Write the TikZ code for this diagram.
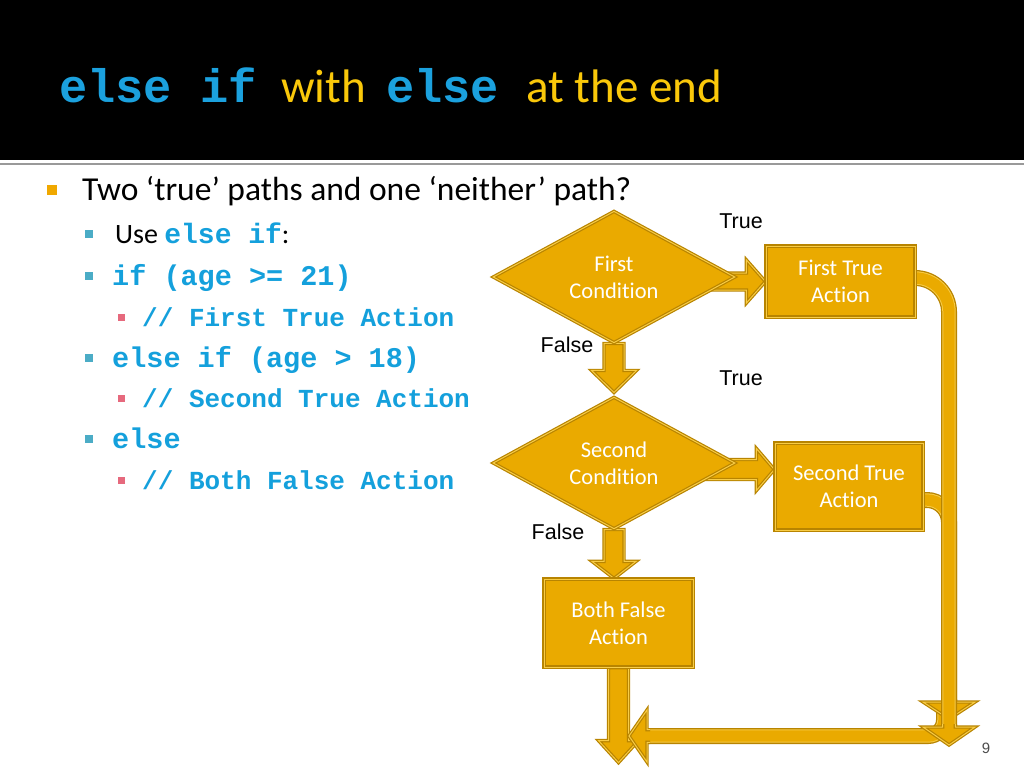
\documentclass[tikz,border=0pt]{standalone}
\usepackage{fontspec}
\setmainfont{Carlito}[Ligatures=CommonOff]
\newfontfamily\codefont{Liberation Mono}
\newfontfamily\arialfont{Liberation Sans}
\usetikzlibrary{shapes.geometric,calc}
\definecolor{tblue}{RGB}{27,161,222}
\definecolor{tyellow}{RGB}{250,200,10}
\definecolor{cblue}{RGB}{20,160,220}
\definecolor{gfill}{RGB}{234,170,0}
\definecolor{gdark}{RGB}{184,132,0}
\definecolor{glight}{RGB}{248,204,70}
\definecolor{bulA}{RGB}{240,168,0}
\definecolor{bulB}{RGB}{75,172,198}
\definecolor{bulC}{RGB}{230,105,125}
\pgfdeclarelayer{bg}
\pgfdeclarelayer{arrowlayer}
\pgfsetlayers{bg,arrowlayer,main}
\tikzset{
  shapeborder/.style={fill=gfill, draw=gdark, double=glight, line width=1.2pt, double distance=1pt},
  cond/.style={diamond, shapeborder, minimum width=242pt, minimum height=130pt, inner sep=0pt,
    text=white, align=center, font=\fontsize{22.5}{27}\selectfont},
  act/.style={rectangle, shapeborder, inner sep=0pt, text=white, align=center,
    font=\fontsize{22.5}{27}\selectfont},
  blk/.style={shapeborder, line join=miter},
  pipeA/.style={draw=gdark, line width=16pt},
  pipeB/.style={draw=glight, line width=13.4pt},
  pipeC/.style={draw=gfill, line width=11.4pt},
  lbl/.style={font=\arialfont\fontsize{21.5}{24}\selectfont, inner sep=0pt},
  ttl/.style={anchor=base west, inner sep=0pt},
  txt/.style={anchor=base west, inner sep=0pt},
  codeB/.style={txt, text=cblue, font=\codefont\bfseries\fontsize{28.5}{30}\selectfont},
  codeC/.style={txt, text=cblue, font=\codefont\bfseries\fontsize{26}{28}\selectfont},
}
\newcommand\darrow[5]{\filldraw[blk] let \p1=(#1), \p2=(#2) in
  (\x1-#3,\y1) -- (\x1-#3,\y2+#5) -- (\x1-#4,\y2+#5) -- (\x1,\y2) -- (\x1+#4,\y2+#5) -- (\x1+#3,\y2+#5) -- (\x1+#3,\y1) -- cycle;}
\newcommand\rarrow[5]{\filldraw[blk] let \p1=(#1), \p2=(#2) in
  (\x1,\y2-#3) -- (\x2-#5,\y2-#3) -- (\x2-#5,\y2-#4) -- (\x2,\y2) -- (\x2-#5,\y2+#4) -- (\x2-#5,\y2+#3) -- (\x1,\y2+#3) -- cycle;}
\newcommand\dhead[4]{\filldraw[blk] let \p1=(#1) in
  (\x1-#2,\y1+#4+3pt) -- (\x1-#2,\y1+#4) -- (\x1-#3,\y1+#4) -- (\x1,\y1) -- (\x1+#3,\y1+#4) -- (\x1+#2,\y1+#4) -- (\x1+#2,\y1+#4+3pt);}
\newcommand\lhead[4]{\filldraw[blk] let \p1=(#1) in
  (\x1+#4+3pt,\y1+#2) -- (\x1+#4,\y1+#2) -- (\x1+#4,\y1+#3) -- (\x1,\y1) -- (\x1+#4,\y1-#3) -- (\x1+#4,\y1-#2) -- (\x1+#4+3pt,\y1-#2);}
\newcommand\pipe[2][]{\draw[pipeA,#1] #2; \draw[pipeB,#1] #2; \draw[pipeC,#1] #2;}
\begin{document}
\begin{tikzpicture}[x=1pt,y=-1pt]
\useasboundingbox (0,0) rectangle (1024,768);
\begin{pgfonlayer}{bg}
  \fill[white] (0,0) rectangle (1024,768);
  \fill[black] (0,0) rectangle (1024,160);
  \draw[black!40, line width=2pt] (0,163.5) -- (1024,163.5);
\end{pgfonlayer}
% title
\node[ttl, text=tblue, font=\codefont\bfseries\fontsize{47}{50}\selectfont] (t1) at (59,102) {else if};
\node[ttl, text=tyellow, font=\fontsize{47}{50}\selectfont] (t2) at (281,102) {with};
\node[ttl, text=tblue, font=\codefont\bfseries\fontsize{47}{50}\selectfont] (t3) at (386,102) {else};
\node[ttl, text=tyellow, font=\fontsize{47}{50}\selectfont] (t4) at (526,102) {at the end};
% bullets
\fill[bulA] (47,185) rectangle (57,195);
\node[txt, font=\fontsize{33.5}{36}\selectfont] (l0) at (82,200) {Two ‘true’ paths and one ‘neither’ path?};
\foreach \yy in {243,285,367,448} \fill[bulB] (85,\yy-13) rectangle (93,\yy-5);
\foreach \yy in {326,407,489} \fill[bulC] (118,\yy-12.5) rectangle (125,\yy-5.5);
\node[txt, font=\fontsize{28}{30}\selectfont] (l1) at (115,243) {Use {\codefont\bfseries\color{cblue}else if}:};
\node[codeB] (l2) at (112,285) {if (age >= 21)};
\node[codeC] (l3) at (142,326) {// First True Action};
\node[codeB] (l4) at (112,367) {else if (age > 18)};
\node[codeC] (l5) at (142,407) {// Second True Action};
\node[codeB] (l6) at (112,448) {else};
\node[codeC] (l7) at (142,489) {// Both False Action};
% flowchart nodes
\node[cond] (d1) at (614,277) {First\\Condition};
\node[act, minimum width=149pt, minimum height=71pt] (b1) at (840.5,281.5) {First True\\Action};
\node[cond] (d2) at (614,463) {Second\\Condition};
\node[act, minimum width=148pt, minimum height=87pt] (b2) at (849,486.5) {Second True\\Action};
\node[act, minimum width=149pt, minimum height=88pt] (b3) at (618.5,623) {Both False\\Action};
\coordinate (j1) at (949,745);
\coordinate (j2) at (949,719);
\coordinate (bt) at (629,736);
\coordinate (bs) at (944,705);
% labels
\node[lbl] (tr1) at (741,221) {True};
\node[lbl] (tr2) at (741,378) {True};
\node[lbl] (f1) at (567,345) {False};
\node[lbl] (f2) at (558,532) {False};
\node[font=\arialfont\fontsize{15}{18}\selectfont, text=black!70, inner sep=0pt] (pg) at (986,748) {9};
% arrows
\begin{pgfonlayer}{arrowlayer}
  \darrow{d1.south}{$(d2.north)+(0,-4)$}{10pt}{22.5pt}{22pt}
  \darrow{d2.south}{$(d2.south|-b3.north)$}{10pt}{22pt}{17pt}
  \darrow{b3.south}{$(b3.south)+(0,95)$}{10pt}{20pt}{22pt}
  \rarrow{d1.center}{b1.west}{8.5pt}{21.5pt}{19pt}
  \rarrow{d2.center}{$(b2.west)+(0,-17)$}{10pt}{21pt}{18pt}
  \pipe[rounded corners=16pt]{(bs) |- ($(bt)+(20,0)$)}
  \lhead{bt}{6.3pt}{26pt}{18pt}
  \pipe[rounded corners=22pt]{($(b2.east)+(-4,13.5)$) -| ($(j2)+(0,-17)$)}
  \dhead{j2}{6.3pt}{26pt}{17pt}
  \pipe[rounded corners=34pt]{($(b1.east)+(-4,-3.5)$) -| ($(j1)+(0,-18)$)}
  \dhead{j1}{6.3pt}{26pt}{18pt}
\end{pgfonlayer}
\end{tikzpicture}
\end{document}
